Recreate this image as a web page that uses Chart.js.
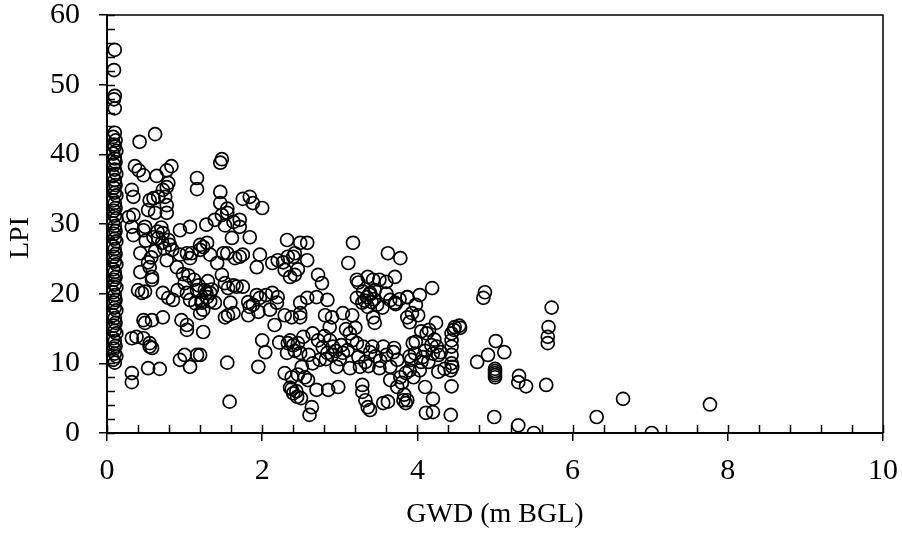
<!DOCTYPE html>
<html><head><meta charset="utf-8">
<script src="https://cdn.jsdelivr.net/npm/chart.js@4.4.1/dist/chart.umd.min.js"></script>
<style>html,body{margin:0;padding:0;background:#fff;overflow:hidden}#wrap{width:902px;height:534px}</style>
</head><body><div id="wrap"><canvas id="c" width="902" height="534"></canvas></div>
<script>
// Axis ticks
const xTickValues = [0, 2, 4, 6, 8, 10];
const yTickValues = [0, 10, 20, 30, 40, 50, 60];
const xAxisTitle = 'GWD (m BGL)';
const yAxisTitle = 'LPI';

const nearSurface = [[0.1,55.0],[0.09,52.1],[0.1,48.4],[0.09,47.9],[0.1,46.6],[0.1,43.1],[0.08,42.5],[0.11,42.0],[0.09,41.4],[0.1,41.1],[0.12,40.5],[0.08,40.1],[0.1,39.4],[0.11,38.9],[0.09,38.5],[0.1,37.8],[0.12,37.2],[0.08,36.9],[0.1,36.3],[0.11,35.6],[0.09,35.2],[0.1,34.5],[0.12,34.1],[0.08,33.4],[0.1,33.0],[0.11,32.3],[0.09,31.9],[0.1,31.2],[0.12,30.8],[0.08,30.1],[0.1,29.7],[0.11,29.0],[0.09,28.6],[0.1,27.9],[0.12,27.5],[0.08,26.8],[0.1,26.4],[0.11,25.7],[0.09,25.3],[0.1,24.6],[0.12,24.2],[0.08,23.5],[0.1,23.1],[0.11,22.4],[0.09,22.0],[0.1,21.3],[0.12,20.9],[0.08,20.2],[0.1,19.8],[0.11,19.1],[0.09,18.7],[0.1,18.0],[0.12,17.6],[0.08,16.9],[0.1,16.5],[0.11,15.8],[0.09,15.4],[0.1,14.7],[0.12,14.3],[0.08,13.6],[0.1,13.2],[0.11,12.5],[0.09,12.1],[0.1,11.4],[0.12,11.0],[0.08,10.5],[0.1,10.1]];

const band0to1 = [[0.42,41.8],[0.62,42.9],[0.36,38.3],[0.41,37.7],[0.47,37.0],[0.64,36.9],[0.77,37.7],[0.83,38.3],[1.16,36.6],[1.16,35.0],[0.32,34.9],[0.34,33.9],[0.6,33.7],[0.66,33.9],[0.72,34.9],[0.77,35.3],[0.79,35.9],[0.75,33.9],[0.55,33.4],[0.77,32.7],[0.28,31.0],[0.34,31.3],[0.32,29.6],[0.34,28.4],[0.53,32.0],[0.62,31.6],[0.77,31.6],[0.49,29.6],[0.47,29.1],[0.6,28.1],[0.66,28.0],[0.71,27.3],[0.79,27.7],[0.81,27.0],[0.94,29.1],[1.07,29.6],[1.28,29.9],[0.43,25.8],[0.53,24.5],[0.55,23.8],[0.43,23.1],[0.58,22.4],[0.58,22.0],[0.77,24.8],[0.9,23.8],[0.94,25.6],[1.07,25.1],[1.09,25.8],[1.2,26.3],[1.2,27.0],[1.29,27.3],[1.03,25.8],[0.4,20.5],[0.45,20.1],[0.49,20.3],[0.72,20.1],[0.79,19.4],[0.85,19.1],[0.91,20.5],[1.0,21.5],[1.03,20.1],[1.07,19.1],[1.16,20.5],[1.22,19.1],[1.24,17.7],[1.28,20.1],[0.47,16.2],[0.58,16.2],[0.49,15.8],[0.72,16.6],[0.32,13.6],[0.38,13.8],[0.47,13.6],[0.55,12.9],[0.58,12.2],[0.96,16.2],[1.03,15.5],[1.03,14.8],[1.24,14.5],[0.32,8.6],[0.32,7.3],[0.53,9.3],[0.68,9.2],[0.94,10.5],[1.0,11.2],[1.07,9.5],[1.16,11.2],[0.5,27.6],[0.57,25.2],[0.72,28.7],[0.84,26.3],[1.12,22.0],[1.05,22.6],[1.18,21.2],[0.98,22.8],[1.14,18.6],[1.3,21.8],[1.35,20.6],[1.33,18.9],[0.55,12.4],[0.65,28.9],[0.7,29.5],[0.74,26.5],[0.62,26.1]];

const band1to2 = [[1.46,38.8],[1.48,39.3],[1.46,34.6],[1.46,33.0],[1.75,33.6],[1.84,33.9],[1.88,33.0],[2.0,32.3],[1.39,30.6],[1.48,31.3],[1.55,31.6],[1.63,30.3],[1.71,30.6],[1.71,29.6],[1.61,28.0],[1.84,28.1],[1.24,26.7],[1.33,25.6],[1.42,24.4],[1.5,25.8],[1.55,25.8],[1.65,25.1],[1.71,25.3],[1.75,25.6],[1.97,25.6],[1.93,23.8],[1.48,22.7],[1.26,20.5],[1.29,19.5],[1.33,20.1],[1.22,18.7],[1.2,17.2],[1.39,18.7],[1.52,21.5],[1.56,20.8],[1.63,21.2],[1.67,21.0],[1.75,21.0],[1.59,18.7],[1.52,16.6],[1.56,16.9],[1.63,17.2],[1.82,18.8],[1.84,18.1],[1.82,16.9],[1.93,19.8],[1.97,19.4],[1.95,17.4],[1.2,11.2],[1.55,10.1],[1.58,4.5],[2.0,13.3],[2.04,11.6],[1.95,9.5],[1.55,32.2],[1.52,29.8],[1.88,18.4]];

const band2to3 = [[2.13,20.1],[2.2,19.5],[2.19,18.7],[2.1,17.7],[2.16,15.5],[2.13,24.4],[2.2,24.8],[2.27,24.5],[2.32,27.7],[2.33,25.3],[2.4,25.3],[2.49,27.3],[2.58,27.3],[2.29,23.4],[2.36,22.4],[2.42,22.7],[2.29,16.9],[2.38,16.6],[2.49,17.2],[2.49,18.7],[2.33,12.9],[2.4,12.6],[2.46,12.9],[2.32,11.5],[2.49,11.5],[2.29,8.6],[2.38,8.0],[2.36,6.5],[2.4,5.7],[2.45,5.2],[2.61,2.6],[2.51,9.5],[2.22,13.0],[2.36,13.3],[2.42,11.8],[2.44,6.0],[2.38,6.3],[2.46,8.4],[2.5,5.0],[2.55,8.0],[2.58,24.8],[2.72,22.7],[2.77,21.5],[2.58,19.4],[2.7,19.5],[2.84,19.1],[2.49,16.6],[2.81,16.9],[2.9,16.6],[2.87,15.2],[2.53,13.8],[2.65,14.3],[2.72,13.3],[2.87,13.3],[2.84,11.5],[2.9,11.2],[2.91,12.4],[2.65,10.0],[2.74,10.5],[2.96,9.5],[2.59,7.6],[2.7,6.2],[2.85,6.2],[2.98,6.6],[2.64,3.7],[2.6,11.2],[2.78,12.3],[3.0,10.6],[2.05,19.8],[2.42,25.8],[2.46,23.5],[2.82,10.6],[2.8,13.9],[2.95,11.8]];

const band3to4 = [[3.17,27.3],[3.11,24.4],[3.62,25.8],[3.78,25.1],[3.04,17.2],[3.16,16.9],[3.22,22.0],[3.24,21.6],[3.36,22.4],[3.43,22.0],[3.51,22.0],[3.6,21.7],[3.71,22.4],[3.22,19.4],[3.29,18.7],[3.35,19.5],[3.39,20.1],[3.41,18.8],[3.45,20.5],[3.36,18.1],[3.43,16.6],[3.45,15.8],[3.65,19.1],[3.71,18.7],[3.72,18.5],[3.87,19.5],[3.87,16.6],[3.04,11.5],[3.13,14.3],[3.16,13.3],[3.22,12.9],[3.3,12.4],[3.39,11.6],[3.24,10.9],[3.13,9.3],[3.26,9.5],[3.29,6.9],[3.29,5.9],[3.33,4.7],[3.36,3.7],[3.39,3.3],[3.56,12.4],[3.51,9.3],[3.65,9.5],[3.69,11.6],[3.74,10.5],[3.65,7.6],[3.74,6.6],[3.8,7.2],[3.56,4.3],[3.62,4.5],[3.87,4.7],[3.08,14.9],[3.2,15.1],[3.33,10.2],[3.42,12.4],[3.37,9.6],[3.6,20.0],[3.87,19.5],[3.98,18.4],[3.93,17.2],[3.9,15.9],[3.94,12.9],[3.97,11.4],[3.82,4.7],[3.83,5.5],[3.85,4.3],[3.92,10.5],[3.95,8.0],[3.9,11.0],[3.85,8.6],[3.78,8.0],[3.9,9.0],[3.98,13.1],[3.32,19.0],[3.38,19.9],[3.44,19.2],[3.3,20.3],[3.48,18.4],[3.02,12.6],[3.1,11.9],[3.46,11.0],[3.52,10.4],[3.7,12.2],[3.6,11.2],[3.77,19.2],[3.55,18.0]];

const band4to5 = [[4.19,20.8],[4.03,19.8],[4.01,16.9],[4.24,15.8],[4.12,14.3],[4.15,14.8],[4.48,15.2],[4.54,15.4],[4.44,14.3],[4.44,13.3],[4.44,12.4],[4.44,11.2],[4.44,10.0],[4.45,9.5],[4.43,9.0],[4.07,10.9],[4.2,11.4],[4.27,11.2],[4.25,12.4],[4.03,9.0],[4.27,8.8],[4.1,6.6],[4.2,4.9],[4.11,2.9],[4.2,3.0],[4.44,6.7],[4.43,2.6],[4.05,10.2],[4.3,11.6],[4.18,12.6],[4.22,13.4],[4.05,14.6],[4.47,14.8],[4.87,20.2],[4.85,19.4],[4.55,15.1],[4.91,11.2],[4.77,10.2],[4.99,2.3],[4.1,11.8],[4.14,10.2],[4.35,9.2]];

const bandOver5 = [[5.73,18.0],[5.69,15.2],[5.68,13.8],[5.68,12.9],[5.01,13.2],[5.12,11.6],[5.0,8.0],[5.0,8.3],[5.0,8.6],[5.0,8.9],[5.0,9.2],[5.31,8.2],[5.3,7.3],[5.4,6.7],[5.66,6.9],[5.3,1.1],[5.5,0.0],[6.31,2.3],[6.65,4.9],[7.02,0.0],[7.77,4.1]];

const FONT = "'Liberation Serif','Times New Roman',serif";
const allPoints = [].concat(nearSurface, band0to1, band1to2, band2to3, band3to4, band4to5, bandOver5)
  .map(p => ({x: p[0], y: p[1]}));

const framePlugin = {
  id: 'frame',
  afterDraw(chart) {
    const {ctx, chartArea: a, scales: {x, y}} = chart;
    ctx.save();
    ctx.strokeStyle = '#000';
    ctx.lineWidth = 1.5;
    ctx.beginPath();
    ctx.moveTo(a.left, a.top); ctx.lineTo(a.right, a.top); ctx.lineTo(a.right, a.bottom);
    ctx.stroke();
    ctx.beginPath();
    // inner ticks on x (every 0.4) and y (every 2)
    for (let i = 0; i <= 25; i++) {
      const px = Math.round(x.getPixelForValue(i * 0.4)) + 0.5;
      ctx.moveTo(px, a.bottom); ctx.lineTo(px, a.bottom - 8);
    }
    for (let i = 0; i <= 30; i++) {
      const py = Math.round(y.getPixelForValue(i * 2)) + 0.5;
      ctx.moveTo(a.left, py); ctx.lineTo(a.left + 8, py);
    }
    ctx.stroke();
    ctx.restore();
  }
};

function zeroPad(s) { s.paddingTop = 0; s.paddingBottom = 0; s.paddingLeft = 0; s.paddingRight = 0; }

new Chart(document.getElementById('c'), {
  type: 'scatter',
  data: { datasets: [{
    data: allPoints,
    pointStyle: 'circle',
    pointRadius: 6.5,
    pointHoverRadius: 6.5,
    borderWidth: 1.7,
    borderColor: '#000',
    backgroundColor: 'rgba(0,0,0,0)'
  }]},
  options: {
    responsive: false,
    devicePixelRatio: 1,
    animation: false,
    layout: { autoPadding: false, padding: { left: 0, top: 15, right: 19, bottom: 0 } },
    plugins: { legend: { display: false }, tooltip: { enabled: false } },
    scales: {
      x: {
        type: 'linear', min: 0, max: 10,
        afterBuildTicks: s => { s.ticks = xTickValues.map(v => ({value: v})); },
        afterFit: s => { s.height = 101; zeroPad(s); },
        ticks: { color: '#000', font: { family: FONT, size: 30 }, padding: 12, maxRotation: 0 },
        grid: { drawOnChartArea: false, drawTicks: true, tickLength: 8, color: '#000', lineWidth: 1.5 },
        border: { display: true, color: '#000', width: 2 },
        title: { display: true, text: xAxisTitle, color: '#000', font: { family: FONT, size: 28 }, padding: { top: 4, bottom: 3 } }
      },
      y: {
        type: 'linear', min: 0, max: 60,
        afterBuildTicks: s => { s.ticks = yTickValues.map(v => ({value: v})); },
        afterFit: s => { s.width = 107; zeroPad(s); },
        ticks: { color: '#000', font: { family: FONT, size: 30 }, padding: 19 },
        grid: { drawOnChartArea: false, drawTicks: true, tickLength: 8, color: '#000', lineWidth: 1.5 },
        border: { display: true, color: '#000', width: 2 },
        title: { display: true, text: yAxisTitle + '\u2003', color: '#000', font: { family: FONT, size: 28 }, padding: { top: 4, bottom: 4 } }
      }
    }
  },
  plugins: [framePlugin]
});
</script>
</body></html>
